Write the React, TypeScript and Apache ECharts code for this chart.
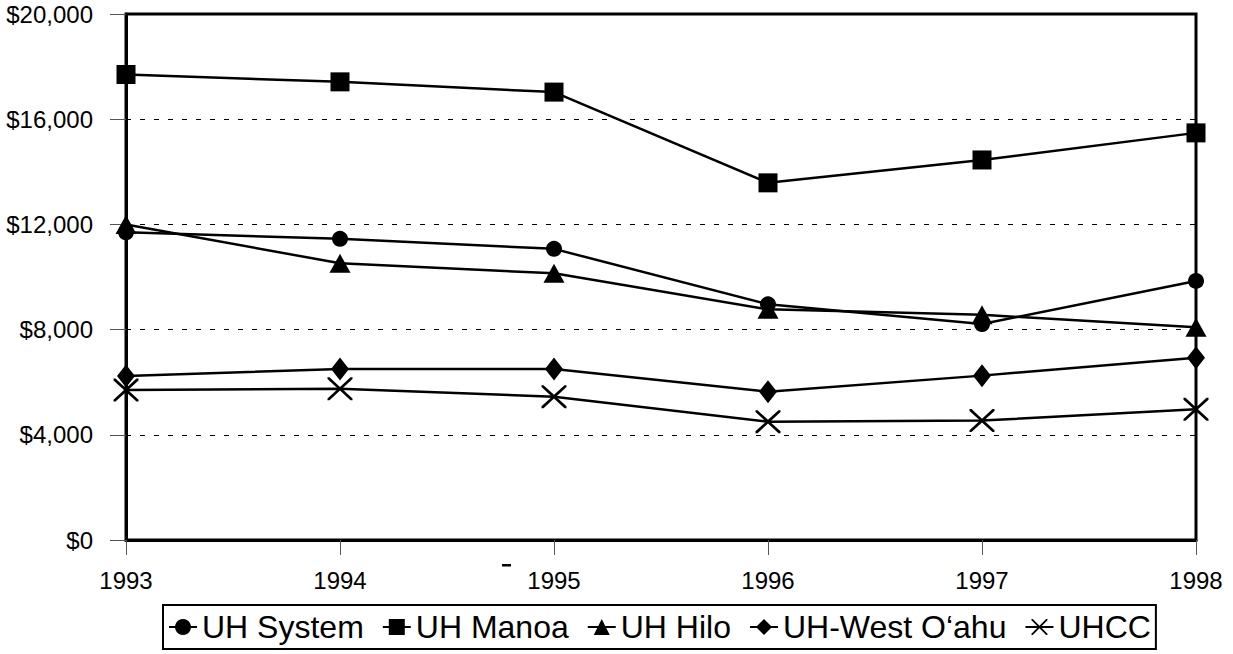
import React, { useEffect, useRef } from "react";
import * as echarts from "echarts";

const years = ["1993", "1994", "1995", "1996", "1997", "1998"];
const uhSystem = [11700, 11450, 11070, 8960, 8210, 9850];
const uhManoa = [17700, 17420, 17030, 13580, 14450, 15480];
const uhHilo = [12000, 10520, 10140, 8770, 8560, 8090];
const uhWestOahu = [6240, 6500, 6500, 5640, 6250, 6930];
const uhcc = [5700, 5750, 5450, 4500, 4540, 4970];

const seriesNames = ["UH System", "UH Manoa", "UH Hilo", "UH-West O\u2018ahu", "UHCC"];

const CROSS =
  "path://M0,0 L8,0 L50,42 L92,0 L100,0 L100,8 L58,50 L100,92 L100,100 L92,100 L50,58 L8,100 L0,100 L0,92 L42,50 L0,8 Z";

const FONT = "Arial, 'Liberation Sans', sans-serif";

function fmt(v: number): string {
  return "$" + String(v).replace(/\B(?=(\d{3})+(?!\d))/g, ",");
}

export default function App() {
  const ref = useRef<HTMLDivElement>(null);

  useEffect(() => {
    document.body.style.margin = "0";
    if (!ref.current) return;
    const chart = echarts.init(ref.current, null, { renderer: "svg" });

    const mk = (name: string, data: number[], symbol: string, size: number | number[]) => ({
      name,
      type: "line",
      data,
      symbol,
      symbolSize: size,
      showSymbol: true,
      lineStyle: { color: "#000", width: 2.5 },
      itemStyle: { color: "#000", borderWidth: 0 },
      emphasis: { disabled: true },
      z: 3,
    });

    chart.setOption({
      animation: false,
      backgroundColor: "#fff",
      grid: {
        left: 126,
        right: 37,
        top: 14,
        bottom: 114,
        show: true,
        borderColor: "#000",
        borderWidth: 3,
        backgroundColor: "transparent",
      },
      xAxis: {
        type: "category",
        data: years,
        boundaryGap: false,
        axisLine: { show: true, lineStyle: { color: "#000", width: 3 } },
        axisTick: { show: true, length: 15, inside: false, lineStyle: { color: "#555", width: 1 } },
        axisLabel: { color: "#000", fontSize: 24, fontFamily: FONT, margin: 28 },
        splitLine: { show: false },
      },
      yAxis: {
        type: "value",
        min: 0,
        max: 20000,
        interval: 4000,
        axisLine: { show: true, lineStyle: { color: "#000", width: 3 } },
        axisTick: { show: true, length: 16, inside: false, lineStyle: { color: "#555", width: 1 } },
        axisLabel: { color: "#000", fontSize: 24, fontFamily: FONT, margin: 33, formatter: (v: number) => fmt(v) },
        splitLine: { show: true, lineStyle: { color: "#000", width: 1, type: [5, 9] } },
      },
      legend: {
        show: true,
        left: 163,
        top: 605,
        orient: "horizontal",
        data: seriesNames,
        itemWidth: 28,
        itemHeight: 20,
        itemGap: 18,
        padding: [6, 5],
        borderColor: "#000",
        borderWidth: 2,
        selectedMode: false,
        textStyle: { color: "#000", fontSize: 32, fontFamily: FONT, lineHeight: 32 },
      },
      graphic: [
        {
          type: "rect",
          shape: { x: 502, y: 564, width: 9, height: 2.5 },
          style: { fill: "#000" },
        },
      ],
      series: [
        mk(seriesNames[0], uhSystem, "circle", 16),
        mk(seriesNames[1], uhManoa, "rect", 19),
        mk(seriesNames[2], uhHilo, "triangle", [21, 19]),
        mk(seriesNames[3], uhWestOahu, "diamond", [18, 23]),
        mk(seriesNames[4], uhcc, CROSS, [25, 23]),
      ],
    });

    return () => chart.dispose();
  }, []);

  return <div ref={ref} style={{ width: 1233, height: 654 }} />;
}
